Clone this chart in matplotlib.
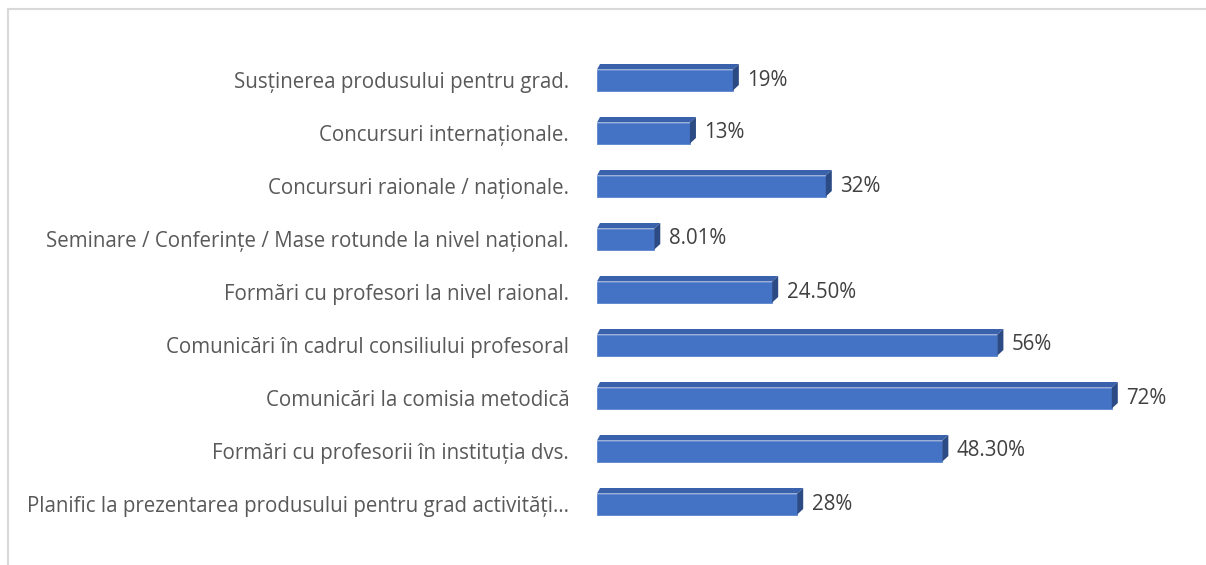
import matplotlib.pyplot as plt
from matplotlib.patches import Polygon
from matplotlib.lines import Line2D

# Data (top to bottom)
categories = [
    "Susținerea produsului pentru grad.",
    "Concursuri internaționale.",
    "Concursuri raionale / naționale.",
    "Seminare / Conferințe / Mase rotunde la nivel național.",
    "Formări cu profesori la nivel raional.",
    "Comunicări în cadrul consiliului profesoral",
    "Comunicări la comisia metodică",
    "Formări cu profesorii în instituția dvs.",
    "Planific la prezentarea produsului pentru grad activități…",
]
values = [19, 13, 32, 8.01, 24.50, 56, 72, 48.30, 28]
value_labels = ["19%", "13%", "32%", "8.01%", "24.50%", "56%", "72%", "48.30%", "28%"]

plt.rcParams['font.family'] = ['Open Sans', 'DejaVu Sans']

W, H = 1206, 565
fig = plt.figure(figsize=(W / 100, H / 100), dpi=100)

# axes placed so that bars start at x=597px
ax_left, ax_right = 597, 1205
ax_top, ax_bot = 53.5, 530.5
ax = fig.add_axes([ax_left / W, 1 - ax_bot / H, (ax_right - ax_left) / W, (ax_bot - ax_top) / H])
xmax = (ax_right - ax_left) / 7.15
ax.set_xlim(0, xmax)
ax.set_ylim(len(values) - 0.5, -0.5)

front = '#4472C4'
top_c = '#3A62AC'
side_c = '#2C4A84'
h = 21 / 53
dx = 6 / 7.15
dy = 5.5 / 53

for i, v in enumerate(values):
    yt = i - h / 2
    yb = i + h / 2
    ax.add_patch(Polygon([(0, yt), (v, yt), (v, yb), (0, yb)], closed=True,
                         facecolor=front, edgecolor='#5B85D0', lw=0.6, zorder=3))
    ax.add_patch(Polygon([(0, yt), (v, yt), (v + dx, yt - dy), (dx * 0.5, yt - dy)],
                         closed=True, facecolor=top_c, edgecolor='none', zorder=3))
    ax.add_patch(Polygon([(v, yt), (v + dx, yt - dy), (v + dx, yb - dy), (v, yb)],
                         closed=True, facecolor=side_c, edgecolor='none', zorder=3))
    ax.text(v + dx + 1.2, i, value_labels[i], va='center', ha='left',
            fontsize=14.8, color='#404040')

ax.set_yticks(range(len(categories)))
ax.set_yticklabels(categories, fontsize=14.8, color='#595959')
ax.tick_params(axis='y', length=0, pad=20)
ax.set_xticks([])
for s in ax.spines.values():
    s.set_visible(False)

# chart frame (left and top edges visible)
fig.add_artist(Line2D([7.5 / W, 7.5 / W], [0, 1 - 9 / H], color='#D9D9D9', lw=1.5))
fig.add_artist(Line2D([7.5 / W, 1], [1 - 9 / H, 1 - 9 / H], color='#D9D9D9', lw=1.5))

fig.savefig('out.png', dpi=100)
